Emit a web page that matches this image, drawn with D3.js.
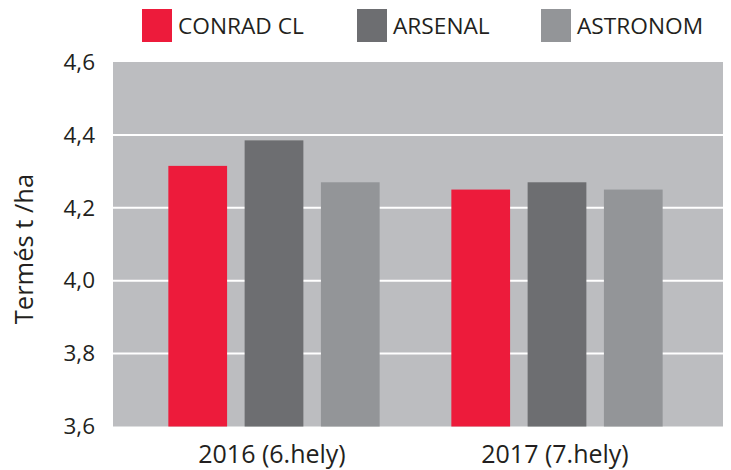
<!DOCTYPE html>
<html>
<head>
<meta charset="utf-8">
<script src="https://cdn.jsdelivr.net/npm/d3@7"></script>
<style>
  html, body { margin: 0; padding: 0; background: #ffffff; }
  svg { display: block; }
  text { font-family: "Open Sans", "DejaVu Sans", sans-serif; fill: #231f20; }
</style>
</head>
<body>
<svg id="chart" width="731" height="470"></svg>
<script>
// ---- data ----
const categories = ["2016 (6.hely)", "2017 (7.hely)"];
const seriesNames = ["CONRAD CL", "ARSENAL", "ASTRONOM"];
const conradValues = [4.315, 4.25];
const arsenalValues = [4.385, 4.27];
const astronomValues = [4.27, 4.25];
const yTicks = [3.6, 3.8, 4.0, 4.2, 4.4, 4.6];
const yTickLabels = ["3,6", "3,8", "4,0", "4,2", "4,4", "4,6"];
const yTitle = "Termés t /ha";
const colors = ["#ed1b3b", "#6d6e71", "#939598"];

const seriesValues = [conradValues, arsenalValues, astronomValues];
const rows = categories.map((c, i) => ({
  cat: c,
  vals: seriesNames.map((s, j) => ({ series: s, idx: j, value: seriesValues[j][i] }))
}));

// ---- layout ----
const svg = d3.select("#chart");
const plot = { left: 113, right: 723, top: 62, bottom: 426.5 };

const y = d3.scaleLinear().domain([3.6, 4.6]).range([plot.bottom, plot.top]);
const x0 = d3.scaleBand().domain(categories).range([132.5, 698.5]).paddingInner(0).paddingOuter(0);
const x1 = d3.scaleBand().domain(seriesNames).range([0, x0.bandwidth()]).paddingInner(0.23).paddingOuter(0.47);
const color = d3.scaleOrdinal().domain(seriesNames).range(colors);

// background
svg.append("rect")
  .attr("x", plot.left).attr("y", plot.top)
  .attr("width", plot.right - plot.left).attr("height", plot.bottom - plot.top)
  .attr("fill", "#bcbdc0");

// gridlines
svg.append("g").selectAll("line")
  .data(yTicks.filter(t => t > 3.6 && t < 4.6))
  .join("line")
  .attr("x1", plot.left).attr("x2", plot.right)
  .attr("y1", d => y(d)).attr("y2", d => y(d))
  .attr("stroke", "#ffffff").attr("stroke-width", 2);

// bars
svg.append("g").selectAll("g")
  .data(rows)
  .join("g")
  .attr("transform", d => `translate(${x0(d.cat)},0)`)
  .selectAll("rect")
  .data(d => d.vals)
  .join("rect")
  .attr("x", d => x1(d.series))
  .attr("width", x1.bandwidth())
  .attr("y", d => y(d.value))
  .attr("height", d => y(3.6) - y(d.value))
  .attr("fill", d => color(d.series));

// y axis labels
const yAxis = d3.axisLeft(y).tickValues(yTicks)
  .tickFormat((d, i) => yTickLabels[i]).tickSize(0).tickPadding(0);
const yg = svg.append("g").attr("transform", `translate(95,0)`).call(yAxis);
yg.select(".domain").remove();
yg.selectAll("text").attr("font-size", 22.5).attr("fill", "#231f20")
  .style("font-family", '"Open Sans", sans-serif');

// x axis labels
const xAxis = d3.axisBottom(x0).tickSize(0).tickPadding(0);
const xg = svg.append("g").attr("transform", `translate(-2,0)`).call(xAxis);
xg.select(".domain").remove();
xg.selectAll("text").attr("font-size", 25).attr("fill", "#231f20")
  .attr("dy", null).attr("y", 463)
  .style("font-family", '"Open Sans", sans-serif');

// y title
svg.append("text")
  .attr("transform", `translate(33,249) rotate(-90)`)
  .attr("text-anchor", "middle")
  .attr("font-size", 25.5)
  .text(yTitle);

// legend
const legendX = [142, 357, 541];
const lg = svg.append("g").selectAll("g")
  .data(seriesNames)
  .join("g")
  .attr("transform", (d, i) => `translate(${legendX[i]},9)`);
lg.append("rect").attr("width", 30).attr("height", 33).attr("fill", d => color(d));
lg.append("text").attr("x", 36).attr("y", 24.5).attr("font-size", 22.7).text(d => d);
</script>
</body>
</html>
